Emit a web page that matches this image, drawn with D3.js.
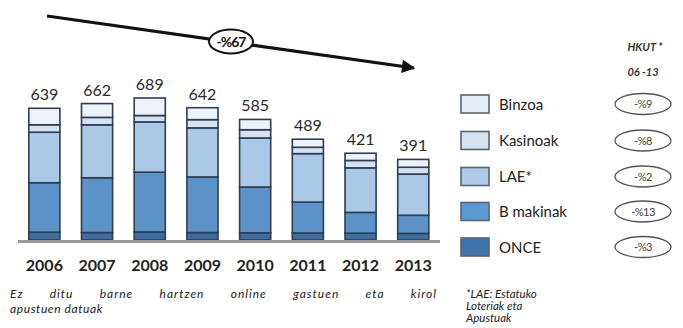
<!DOCTYPE html>
<html><head><meta charset="utf-8">
<script src="https://cdn.jsdelivr.net/npm/d3@7"></script>
<style>body{margin:0;background:#fff}svg{display:block}</style>
</head><body>
<svg id="c" width="683" height="328"></svg>
<script>
const years = ["2006","2007","2008","2009","2010","2011","2012","2013"];
const totals = [639, 662, 689, 642, 585, 489, 421, 391];
const seriesNames = ["ONCE","B makinak","LAE*","Kasinoak","Binzoa"];
const once     = [38, 36, 39, 36, 35, 34, 33, 32];
const bMakinak = [240, 266, 290, 270, 222, 150, 101, 88];
const lae      = [245, 257, 244, 238, 238, 235, 216, 200];
const kasinoak = [36, 36, 31, 40, 40, 31, 36, 33];
const binzoa   = [80, 67, 85, 58, 50, 39, 35, 38];
const hkut = ["-%9","-%8","-%2","-%13","-%3"]; // Binzoa, Kasinoak, LAE, B makinak, ONCE
const totalChange = "-%67";
const legendOrder = ["Binzoa","Kasinoak","LAE*","B makinak","ONCE"];

const colors = {"ONCE":"#3f6d9f","B makinak":"#5b93c8","LAE*":"#abc9e7","Kasinoak":"#d4e2f1","Binzoa":"#eef3f9"};
const legendColors = {"ONCE":"#3f73ab","B makinak":"#5c9ad3","LAE*":"#aecbe8","Kasinoak":"#d3e1f0","Binzoa":"#e4ecf6"};

const svg = d3.select("#c");
const font = "Lato, 'Open Sans', sans-serif";

const table = years.map((y,i)=>({year:y, "ONCE":once[i], "B makinak":bMakinak[i], "LAE*":lae[i], "Kasinoak":kasinoak[i], "Binzoa":binzoa[i]}));
const stack = d3.stack().keys(seriesNames)(table);

const x = d3.scaleBand().domain(years).range([18, 439.6]).paddingInner(0.41).paddingOuter(0.205);
const y = d3.scaleLinear().domain([0, 689]).range([240, 98]);

// bars
const g = svg.append("g");
stack.forEach(layer=>{
  g.selectAll(null).data(layer).enter().append("rect")
    .attr("x", d=>x(d.data.year))
    .attr("y", d=>y(d[1]))
    .attr("width", x.bandwidth())
    .attr("height", d=>y(d[0])-y(d[1]))
    .attr("fill", colors[layer.key])
    .attr("stroke", "#2e3d52")
    .attr("stroke-width", 1.6);
});

// baseline
svg.append("line").attr("x1",18).attr("x2",440).attr("y1",241.5).attr("y2",241.5)
  .attr("stroke","#9a9a9a").attr("stroke-width",3);

// totals
svg.selectAll(null).data(years).enter().append("text")
  .attr("x", d=>x(d)+x.bandwidth()/2)
  .attr("y", (d,i)=>y(totals[i])-8)
  .attr("text-anchor","middle")
  .attr("font-family",font).attr("font-size",16).attr("fill","#2a2a2a")
  .text((d,i)=>totals[i]);

// x axis labels
const xAxis = d3.axisBottom(x).tickSize(0).tickPadding(0);
const ax = svg.append("g").attr("transform","translate(0,260)").call(xAxis);
ax.select(".domain").remove();
ax.selectAll("text").attr("font-family",font).attr("font-size",16).attr("font-weight","bold").attr("fill","#222").attr("dy","0.71em");

// trend arrow
const defs = svg.append("defs");
defs.append("marker").attr("id","ah").attr("viewBox","0 0 10 10").attr("refX",9).attr("refY",5)
  .attr("markerWidth",5).attr("markerHeight",4.2).attr("orient","auto").attr("markerUnits","strokeWidth")
  .append("path").attr("d","M0,0L10,5L0,10z").attr("fill","#111");
svg.append("line").attr("x1",47).attr("y1",16).attr("x2",414).attr("y2",68)
  .attr("stroke","#111").attr("stroke-width",3.2).attr("marker-end","url(#ah)");
svg.append("ellipse").attr("cx",231).attr("cy",41.5).attr("rx",22).attr("ry",12)
  .attr("fill","#fff").attr("stroke","#111").attr("stroke-width",2);
svg.append("text").attr("x",231).attr("y",46.5).attr("text-anchor","middle")
  .attr("font-family",font).attr("font-size",14).attr("font-weight","bold").attr("fill","#111")
  .attr("letter-spacing","-1").text(totalChange);

// legend
const rowY = [104, 140.5, 176.5, 211.5, 247];
legendOrder.forEach((k,i)=>{
  svg.append("rect").attr("x",461).attr("y",rowY[i]-9).attr("width",28).attr("height",18)
    .attr("fill",legendColors[k]).attr("stroke","#5a6370").attr("stroke-width",1.6);
  svg.append("text").attr("x",499).attr("y",rowY[i]+5.5)
    .attr("font-family",font).attr("font-size",15).attr("fill","#222").text(k);
  svg.append("ellipse").attr("cx",643).attr("cy",rowY[i]).attr("rx",28).attr("ry",10.5)
    .attr("fill","#fff").attr("stroke","#555").attr("stroke-width",1.3);
  svg.append("text").attr("x",643).attr("y",rowY[i]+4).attr("text-anchor","middle")
    .attr("font-family",font).attr("font-size",11).attr("fill","#444").attr("letter-spacing","-0.5").text(hkut[i]);
});
svg.append("text").attr("x",645).attr("y",51).attr("text-anchor","middle")
  .attr("font-family",font).attr("font-size",11).attr("font-style","italic").attr("font-weight","bold").attr("fill","#333").text("HKUT *");
svg.append("text").attr("x",643).attr("y",76).attr("text-anchor","middle")
  .attr("font-family",font).attr("font-size",11).attr("font-style","italic").attr("font-weight","bold").attr("fill","#333").text("06 -13");

// footnotes: justified first line, word by word
const fnSize = 12;
const fnWords = "Ez ditu barne hartzen online gastuen eta kirol".split(" ");
const fnG = svg.append("g");
const wordEls = fnWords.map(w => fnG.append("text").attr("y",298)
  .attr("font-family",font).attr("font-size",fnSize).attr("font-style","italic")
  .attr("letter-spacing","1").attr("fill","#222").text(w));
const widths = wordEls.map(t => t.node().getComputedTextLength());
const totalW = d3.sum(widths);
const gap = (437 - 10 - totalW) / (fnWords.length - 1);
let cx = 10;
wordEls.forEach((t,i)=>{ t.attr("x", cx); cx += widths[i] + gap; });
svg.append("text").attr("x",10).attr("y",313)
  .attr("font-family",font).attr("font-size",fnSize).attr("font-style","italic")
  .attr("letter-spacing","0.6").attr("fill","#222").text("apustuen datuak");
["*LAE: Estatuko","Loteriak eta","Apustuak"].forEach((t,i)=>{
  svg.append("text").attr("x",466).attr("y",298+i*12)
    .attr("font-family",font).attr("font-size",11.5).attr("font-style","italic").attr("fill","#222").text(t);
});
</script>
</body></html>
